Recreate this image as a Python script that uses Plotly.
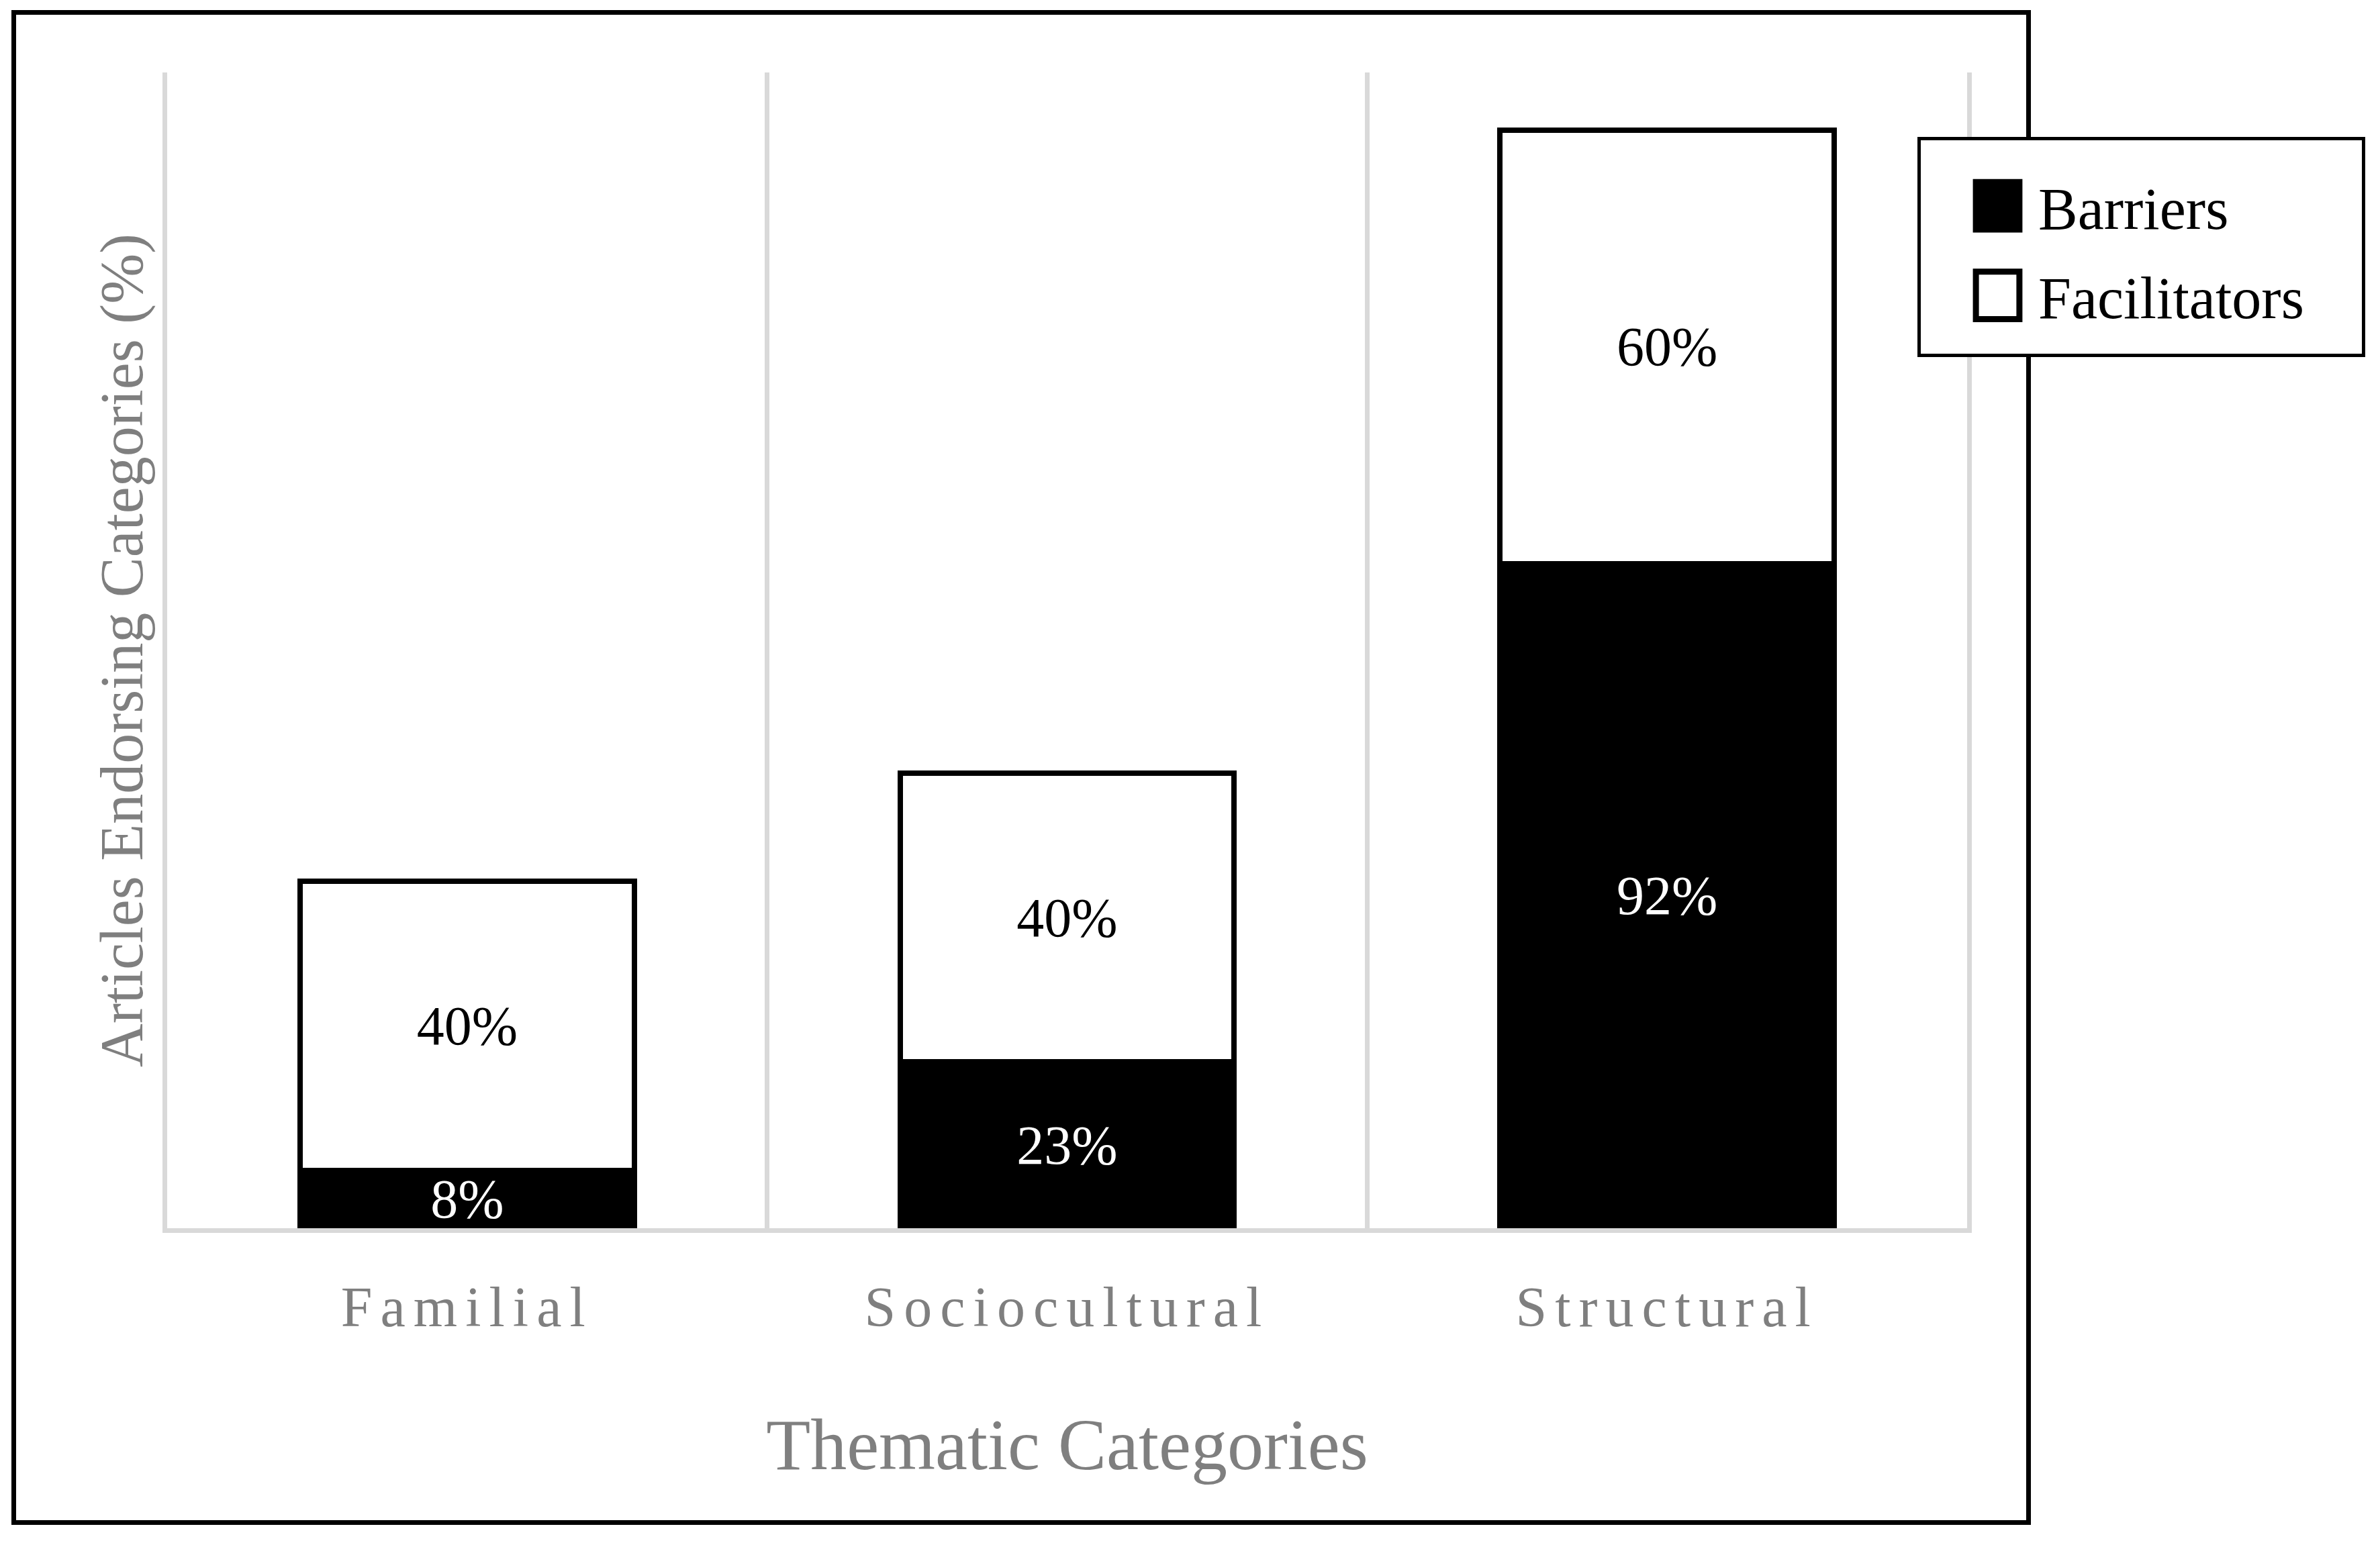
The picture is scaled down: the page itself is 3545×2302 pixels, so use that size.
import plotly.graph_objects as go

# ---- data ----
categories = ["Familial", "Sociocultural", "Structural"]
barriers = [8, 23, 92]
facilitators = [40, 40, 60]
series_names = ["Barriers", "Facilitators"]
x_title = "Thematic Categories"
y_title = "Articles Endorsing Categories (%)"

# ---- layout geometry (pixels) ----
W, H = 3545, 2302
L, R, T, B = 249, 615, 108, 472
FONT = "Liberation Serif"
GRAY = "#7f7f7f"
GRID = "#d9d9d9"


def px2paper_x(px):
    return (px - L) / (W - L - R)


def px2paper_y(py):
    return 1 - (py - T) / (H - T - B)


fig = go.Figure()
fig.add_trace(go.Bar(
    name=series_names[0], x=categories, y=barriers,
    text=[f"{v}%" for v in barriers],
    textposition="inside", insidetextanchor="middle", constraintext="none",
    textfont=dict(family=FONT, size=82, color="white"),
    marker=dict(color="black", line=dict(color="black", width=8)),
    legendgroup="b", hoverinfo="skip",
))
fig.add_trace(go.Bar(
    name=series_names[1], x=categories, y=facilitators,
    text=[f"{v}%" for v in facilitators],
    textposition="inside", insidetextanchor="middle", constraintext="none",
    textfont=dict(family=FONT, size=82, color="black"),
    marker=dict(color="white", line=dict(color="black", width=8)),
    legendgroup="f", hoverinfo="skip",
))

fig.update_layout(
    width=W, height=H,
    margin=dict(l=L, r=R, t=T, b=B, pad=0, autoexpand=False),
    paper_bgcolor="white", plot_bgcolor="white",
    barmode="stack", bargap=0.443,
    font=dict(family=FONT, color="black"),
    showlegend=True,
    legend=dict(
        xref="container", yref="container",
        x=(2858 + 52) / W, y=1 - (206 + 32) / H, xanchor="left", yanchor="top",
        bgcolor="white", bordercolor="black", borderwidth=5,
        font=dict(family=FONT, size=88, color="black"),
        traceorder="grouped", tracegroupgap=16, itemwidth=111,
    ),
    xaxis=dict(
        type="category", categoryorder="array", categoryarray=categories,
        showgrid=True, gridcolor=GRID, gridwidth=7, tickson="boundaries",
        ticks="", showline=True, linecolor=GRID, linewidth=7,
        tickfont=dict(family=FONT, size=84, color=GRAY), ticklabelstandoff=38,
        title=dict(text=x_title, font=dict(family=FONT, size=108, color=GRAY), standoff=123),
        fixedrange=True,
    ),
    yaxis=dict(
        range=[0, 160], showgrid=False, zeroline=False,
        showline=True, mirror=True, linecolor=GRID, linewidth=7,
        showticklabels=False, ticks="",
        title=dict(text=y_title, font=dict(family=FONT, size=90, color=GRAY), standoff=2),
        fixedrange=True,
    ),
    shapes=[dict(
        type="rect", xref="paper", yref="paper",
        x0=px2paper_x(20.5), x1=px2paper_x(3021.5),
        y0=px2paper_y(2268.5), y1=px2paper_y(18.5),
        line=dict(color="black", width=7), fillcolor="rgba(0,0,0,0)", layer="above",
    )],
)

post = """
document.body.style.margin='0';
document.body.style.overflow='hidden';
var gd = document.getElementById('{plot_id}');
function fixup(){
  gd.querySelectorAll('.xtick text').forEach(function(t){ t.style.letterSpacing='12px'; });
  gd.querySelectorAll('.legend .legendpoints path').forEach(function(p){
    var tr = p.getAttribute('transform') || '';
    if (tr.indexOf('scale') < 0) { p.setAttribute('transform', tr + ' scale(5.4,5.9)'); }
    p.style.vectorEffect = 'non-scaling-stroke';
    p.style.strokeWidth = '9px';
  });
  var bg = gd.querySelector('.legend rect.bg');
  if (bg && !bg.getAttribute('data-fixed')) {
    var gl = gd.querySelector('.legend');
    var tr = gl.getAttribute('transform');
    var m = /translate\\(([-\\d.]+)[ ,]+([-\\d.]+)\\)/.exec(tr);
    var lx = m ? parseFloat(m[1]) : 0, ly = m ? parseFloat(m[2]) : 0;
    // target box in page pixels: left 2858, top 206, right 3520, bottom 529
    bg.setAttribute('x', 2858 - lx); bg.setAttribute('y', 206 - ly);
    bg.setAttribute('width', 3520 - 2858); bg.setAttribute('height', 529 - 206);
    bg.setAttribute('data-fixed', '1');
  }
}
fixup();
gd.on('plotly_afterplot', fixup);
"""

fig.write_html("out.html", config={"displayModeBar": False, "staticPlot": True}, post_script=post)
